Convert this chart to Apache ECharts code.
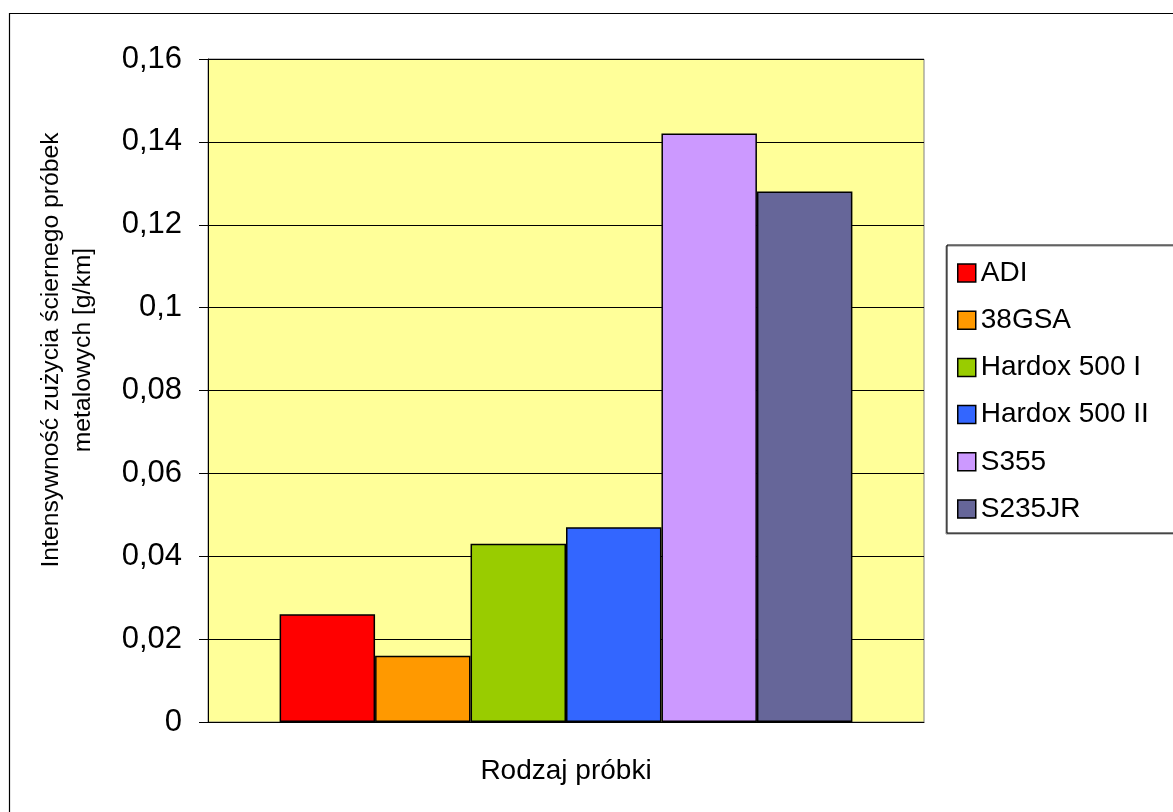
<!DOCTYPE html>
<html>
<head>
<meta charset="utf-8">
<title>Intensywność zużycia ściernego próbek metalowych</title>
<script src="https://cdn.jsdelivr.net/npm/echarts@6/dist/echarts.min.js"></script>
<style>
  html, body { margin: 0; padding: 0; background: #ffffff; }
  #chart { width: 1173px; height: 812px; }
</style>
</head>
<body>
<div id="chart"></div>
<script>
// Samples (one bar each, single category on the x axis)
const sampleNames = ['ADI', '38GSA', 'Hardox 500 I', 'Hardox 500 II', 'S355', 'S235JR'];
// Abrasive wear intensity [g/km]
const wearValues = [0.026, 0.016, 0.043, 0.047, 0.142, 0.128];
const barColors = ['#FF0000', '#FF9900', '#99CC00', '#3366FF', '#CC99FF', '#666699'];
const categories = [''];
// Y axis ticks and their labels (decimal comma)
const yTicks = [0, 0.02, 0.04, 0.06, 0.08, 0.1, 0.12, 0.14, 0.16];
const yTickLabels = ['0', '0,02', '0,04', '0,06', '0,08', '0,1', '0,12', '0,14', '0,16'];

const yTitle = 'Intensywność zużycia ściernego próbek\nmetalowych [g/km]';
const xTitle = 'Rodzaj próbki';

const FONT = '"Liberation Sans", Arial, Helvetica, sans-serif';

const chart = echarts.init(document.getElementById('chart'), null, { renderer: 'canvas' });

function tickLabel(v) {
  for (let i = 0; i < yTicks.length; i++) {
    if (Math.abs(yTicks[i] - v) < 1e-9) return yTickLabels[i];
  }
  return String(v).replace('.', ',');
}

const series = sampleNames.map((name, i) => ({
  name: name,
  type: 'bar',
  data: [wearValues[i]],
  barGap: '0%',
  barCategoryGap: '20%',
  itemStyle: {
    color: barColors[i],
    borderColor: '#000000',
    borderWidth: 1.5
  },
  emphasis: { disabled: true }
}));

chart.setOption({
  animation: false,
  backgroundColor: '#ffffff',
  textStyle: { fontFamily: FONT },
  grid: {
    left: 208,
    right: 249,
    top: 59,
    bottom: 90,
    show: true,
    backgroundColor: '#FFFF99',
    borderColor: '#808080',
    borderWidth: 1
  },
  legend: {
    orient: 'vertical',
    left: 947,
    top: 245,
    data: sampleNames,
    icon: 'rect',
    itemWidth: 18,
    itemHeight: 18,
    itemGap: 19.2,
    itemTextGap: 12,
    padding: [14, 70, 10, 10],
    backgroundColor: '#ffffff',
    borderColor: '#000000',
    borderWidth: 1,
    borderRadius: 0,
    shadowColor: '#8a8a8a',
    shadowBlur: 0,
    shadowOffsetX: -1,
    shadowOffsetY: 1,
    selectedMode: false,
    itemStyle: { borderColor: '#000000', borderWidth: 1.5 },
    textStyle: {
      fontFamily: FONT,
      fontSize: 28,
      lineHeight: 27,
      color: '#000000'
    }
  },
  xAxis: {
    type: 'category',
    data: categories,
    name: xTitle,
    nameLocation: 'middle',
    nameGap: 35,
    nameTextStyle: { fontFamily: FONT, fontSize: 28, color: '#000000' },
    axisLine: { show: true, lineStyle: { color: '#000000', width: 1 } },
    axisTick: { show: false },
    axisLabel: { show: false },
    splitLine: { show: false }
  },
  yAxis: {
    type: 'value',
    min: 0,
    max: 0.16,
    interval: 0.02,
    axisLine: { show: true, lineStyle: { color: '#000000', width: 1 } },
    axisTick: { show: true, length: 9, inside: false, lineStyle: { color: '#000000' } },
    axisLabel: {
      margin: 26,
      fontFamily: FONT,
      fontSize: 31,
      color: '#000000',
      formatter: tickLabel
    },
    splitLine: { show: true, lineStyle: { color: '#000000', width: 1 } }
  },
  graphic: [
    {
      type: 'rect',
      silent: true,
      z: 100,
      shape: { x: 9.5, y: 13.5, width: 1200, height: 900 },
      style: { fill: 'none', stroke: '#000000', lineWidth: 1.2 }
    },
    {
      type: 'text',
      silent: true,
      x: 67,
      y: 350,
      rotation: Math.PI / 2,
      style: {
        text: yTitle,
        font: '24.7px ' + FONT,
        fill: '#000000',
        align: 'center',
        verticalAlign: 'middle',
        lineHeight: 32
      }
    }
  ],
  series: series
});
</script>
</body>
</html>
